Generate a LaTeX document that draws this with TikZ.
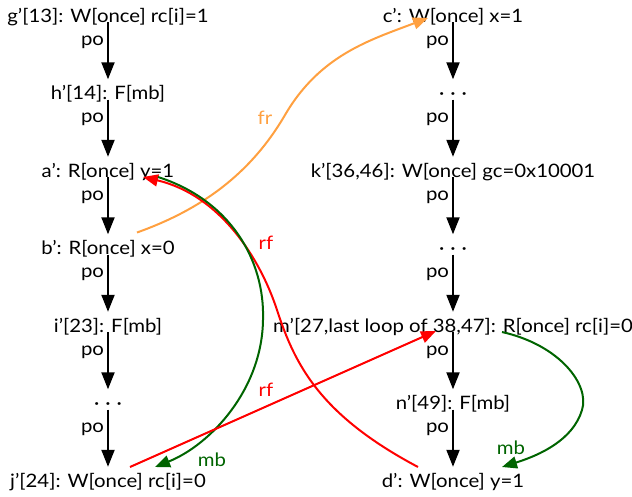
\documentclass[tikz,border=0pt]{standalone}
\usepackage{fontspec}
\setmainfont{Lato}[FakeStretch=1.1]
\usetikzlibrary{arrows.meta}
\definecolor{frc}{RGB}{255,160,64}
\definecolor{mbc}{RGB}{0,100,0}
\definecolor{rfc}{RGB}{255,0,0}
\begin{document}
\begin{tikzpicture}[x=1pt,y=-1pt,
  every node/.style={font=\fontsize{18.5}{21}\selectfont},
  ev/.style={inner sep=0pt, text height=20pt, text depth=0pt, anchor=base},
  poarrow/.style={line width=2pt, -{Triangle[length=17pt,width=13pt]}},
  polbl/.style={pos=0.35, left=3pt, inner sep=0pt},
  rel/.style={line width=2pt, -{Triangle[length=15pt,width=12pt]}},
  lbl/.style={inner sep=0pt}]
\useasboundingbox (0,0) rectangle (632,496);
% left column
\node[ev] (g) at (108,22) {g’[13]: W[once] rc[i]=1};
\node[ev] (h) at (108,99.5) {h’[14]: F[mb]};
\node[ev] (a) at (108,177) {a’: R[once] y=1};
\node[ev] (b) at (108,254.5) {b’: R[once] x=0};
\node[ev] (i) at (108,332) {i’[23]: F[mb]};
\node[ev] (ld) at (108,409.5) {·\hspace{6pt}·\hspace{6pt}·};
\node[ev] (j) at (108,487) {j’[24]: W[once] rc[i]=0};
% right column
\node[ev] (c) at (453,22) {c’: W[once] x=1};
\node[ev] (rd1) at (453,99.5) {·\hspace{6pt}·\hspace{6pt}·};
\node[ev] (k) at (453,177) {k’[36,46]: W[once] gc=0x10001};
\node[ev] (rd2) at (453,254.5) {·\hspace{6pt}·\hspace{6pt}·};
\node[ev] (m) at (453,332) {m’[27,last loop of 38,47]: R[once] rc[i]=0};
\node[ev] (n) at (453,409.5) {n’[49]: F[mb]};
\node[ev] (d) at (453,487) {d’: W[once] y=1};
% po edges
\foreach \s/\t in {g/h,h/a,a/b,b/i,i/ld,ld/j,c/rd1,rd1/k,k/rd2,rd2/m,m/n,n/d}{
  \draw[poarrow] (\s.south) -- (\t.north) node[polbl] {po};
}
% fr
\draw[rel, frc] ([shift={(29,-22)}]b.base) .. controls (200,210) and (250,175) .. (285,115)
   .. controls (320,55) and (370,40) .. ([shift={(-25,-4)}]c.base);
\node[lbl, text=frc] (frl) at (265,118) {fr};
% rf d' -> a'
\draw[rel, rfc] ([shift={(-35,-20)}]d.base) .. controls (320,415) and (295,365) .. (277,310)
   .. controls (260,258) and (220,195) .. ([shift={(35,0)}]a.base);
\node[lbl, text=rfc] (rfl1) at (266,243) {rf};
% mb a' -> j'
\draw[rel, mbc] ([shift={(50,0)}]a.base) .. controls (230,200) and (265,260) .. (263,320)
   .. controls (262,390) and (210,445) .. ([shift={(47,-20)}]j.base);
\node[lbl, text=mbc] (mbl1) at (212,460) {mb};
% rf j' -> m'
\draw[rel, rfc] ([shift={(22,-20)}]j.base) -- ([shift={(-17,-1)}]m.base);
\node[lbl, text=rfc] (rfl2) at (266,390) {rf};
% mb m' -> d'
\draw[rel, mbc] ([shift={(49,0)}]m.base) .. controls (560,345) and (590,385) .. (582,410)
   .. controls (573,440) and (540,455) .. ([shift={(49,-20)}]d.base);
\node[lbl, text=mbc] (mbl2) at (511,448) {mb};
\end{tikzpicture}
\end{document}
